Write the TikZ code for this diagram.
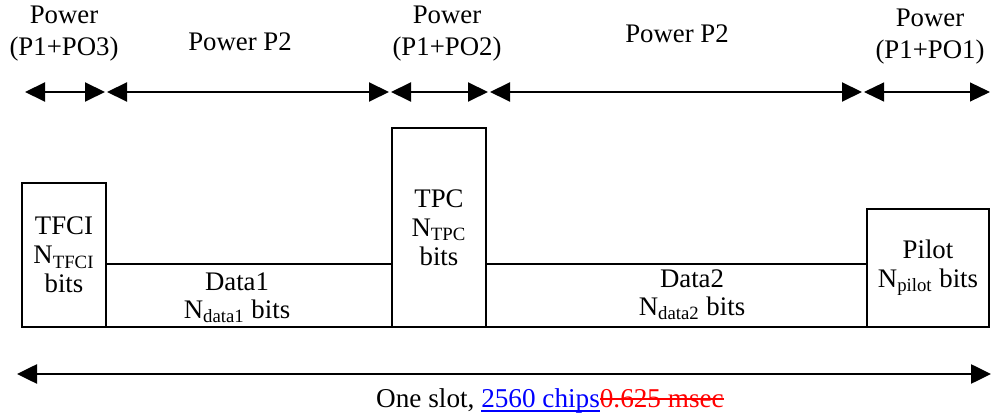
\documentclass[tikz,border=0pt]{standalone}
\usepackage{fontspec}
\setmainfont{Liberation Serif}
\usetikzlibrary{arrows.meta}
\usetikzlibrary{positioning}
\newcommand\strk[1]{\setbox0\hbox{#1}\rlap{\rule[0.28em]{\wd0}{0.07em}}\box0}
\newcommand\undl[1]{\setbox0\hbox{#1}\rlap{\rule[-0.15em]{\wd0}{0.07em}}\box0}
\tikzset{x=0.5pt, y=-0.5pt, % one unit is one pixel of the slot picture
      field/.style={ % Sets the properties for each field of the slot
      draw, semithick,
      inner sep=0pt, outer sep=0pt,
      anchor=south west,
      align=center,
      font=\fontsize{13.4}{14.5}\selectfont},
      lbl/.style={ % Text above the power arrows
      align=center,
      font=\fontsize{13.4}{16}\selectfont},
      span/.style={ % Sets the properties for each power arrow
      <->, >={Triangle[length=10pt,width=9.5pt]},
      line width=1pt,
      shorten <=0.5pt, shorten >=0.5pt}}

\begin{document}
\begin{tikzpicture}
      \useasboundingbox (0,0) rectangle (991,416);
      % fields of the slot
      \node[field, minimum width=42pt, minimum height=72pt] (tfci) at (22,327) {TFCI\\N\textsubscript{TFCI}\\bits};
      \node[field, minimum width=143pt, minimum height=31.5pt] (data1) at (tfci.south east) {};
      \node[field, minimum width=47pt, minimum height=99.5pt] (tpc) at (data1.south east) {TPC\\N\textsubscript{TPC}\\bits};
      \node[field, minimum width=190.5pt, minimum height=31.5pt] (data2) at (tpc.south east) {};
      \node[field, minimum width=61pt, minimum height=59pt] (pilot) at (data2.south east) {Pilot\\N\textsubscript{pilot} bits};
      \node[lbl, font=\fontsize{13.4}{14}\selectfont] (d1txt) at (237,298) {Data1\\N\textsubscript{data1} bits};
      \node[lbl, font=\fontsize{13.4}{14}\selectfont] (d2txt) at (692,295) {Data2\\N\textsubscript{data2} bits};
      % power levels
      \coordinate (c0) at (24,92);
      \coordinate (c1) at (106,92);
      \coordinate (c2) at (390,92);
      \coordinate (c3) at (489,92);
      \coordinate (c4) at (863,92);
      \coordinate (c5) at (991,92);
      \draw[span] (c0) -- (c1);
      \draw[span] (c1) -- (c2);
      \draw[span] (c2) -- (c3);
      \draw[span] (c3) -- (c4);
      \draw[span, line width=0.6pt] (c4) -- (c5);
      \node[lbl] (pw3) at (64,34) {Power\\(P1+PO3)};
      \node[lbl] (p2a) at (240,42) {Power P2};
      \node[lbl] (pw2) at (447,34) {Power\\(P1+PO2)};
      \node[lbl] (p2b) at (677,34) {Power P2};
      \node[lbl] (pw1) at (930,37) {Power\\(P1+PO1)};
      % whole slot
      \coordinate (s0) at (17,374);
      \coordinate (s1) at (991,374);
      \draw[span, line width=1.3pt, shorten <=0pt, shorten >=0pt] (s0) -- (s1);
      \node[lbl, font=\fontsize{13.6}{16}\selectfont] (slot) at (550,401) {One slot, \textcolor{blue}{\undl{2560 chips}}\textcolor{red}{\strk{0.625 msec}}};
\end{tikzpicture}
\end{document}
